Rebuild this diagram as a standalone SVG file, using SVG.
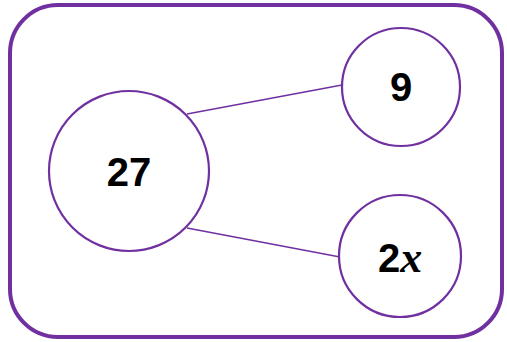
<svg xmlns="http://www.w3.org/2000/svg" width="507" height="342" viewBox="0 0 507 342">
<style>
.frame{fill:#fff;stroke:#7030a0;stroke-width:4}
.node{fill:#fff;stroke:#7030a0;stroke-width:2.2}
.edge{stroke:#7030a0;stroke-width:1.3;fill:none}
.lbl{font-family:"Liberation Sans",Arial,sans-serif;font-weight:bold;font-size:40px;fill:#000;text-anchor:middle}
.var{font-family:"Liberation Serif","Times New Roman",serif;font-style:italic;font-weight:bold;font-size:44px}
</style>
<rect class="frame" x="10" y="5" width="492" height="332" rx="48" ry="48"/>
<g id="connectors">
<line class="edge" x1="187" y1="114" x2="342" y2="85"/>
<line class="edge" x1="187" y1="228" x2="340" y2="257"/>
</g>
<g id="node-27">
<circle class="node" cx="129" cy="171" r="80"/>
<text class="lbl" x="129" y="186">27</text>
</g>
<g id="node-9">
<circle class="node" cx="401" cy="87" r="59"/>
<text class="lbl" x="401" y="101">9</text>
</g>
<g id="node-2x">
<circle class="node" cx="400" cy="256" r="61"/>
<text class="lbl" x="400" y="272">2<tspan class="var">x</tspan></text>
</g>
</svg>
